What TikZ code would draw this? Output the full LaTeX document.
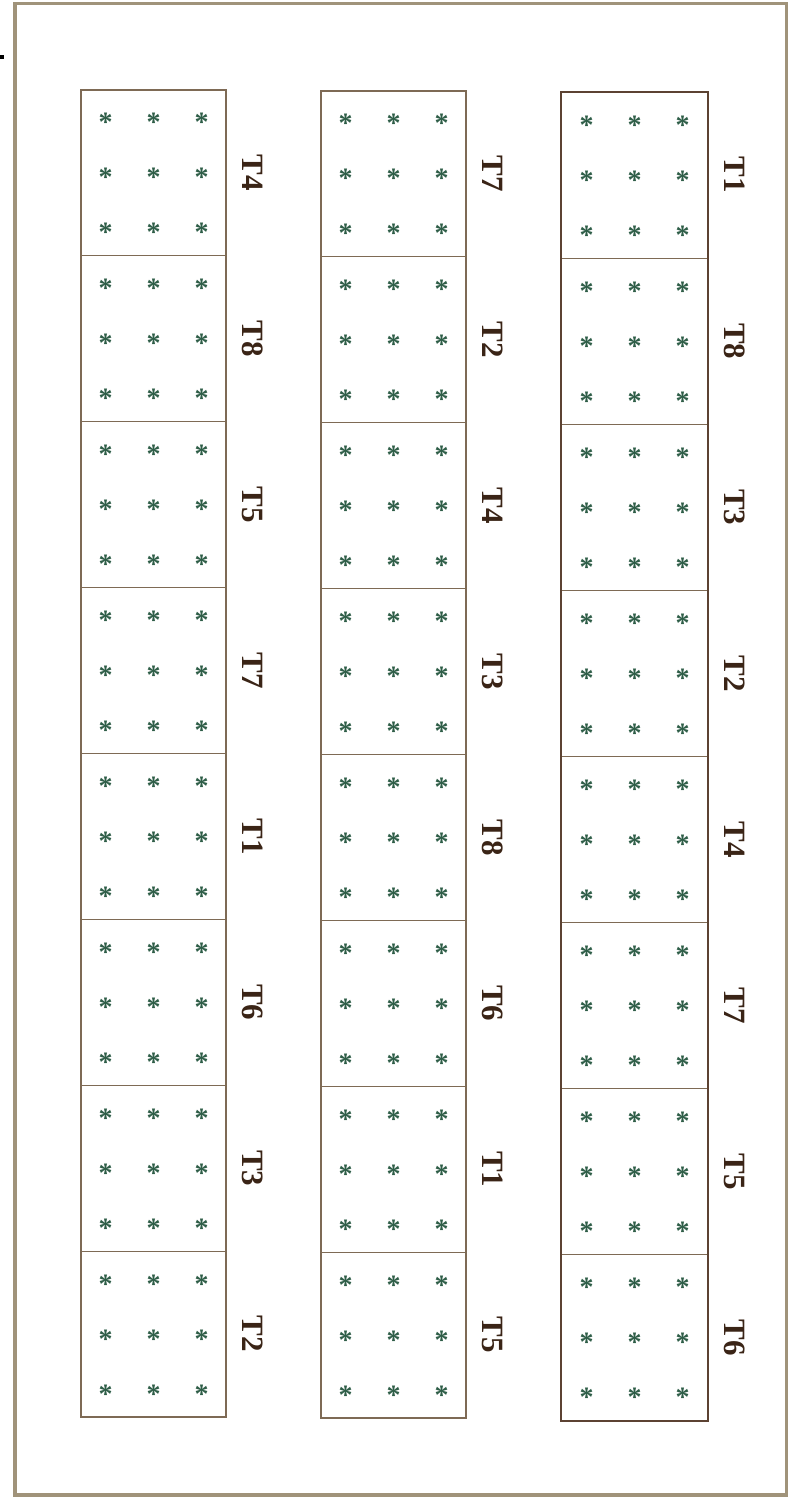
\documentclass[tikz,border=0pt]{standalone}
\usepackage{fontspec}
\setmainfont{Liberation Serif}
\definecolor{framecol}{HTML}{A0937A}
\definecolor{cellcol}{HTML}{7E6A55}
\definecolor{outercol}{HTML}{5C4232}
\definecolor{labcol}{HTML}{3A2416}
\definecolor{astcol}{HTML}{2F5E48}
\tikzset{
  cellbox/.style={draw=cellcol, line width=1.1pt, rectangle, inner sep=0pt},
  labtext/.style={text=labcol, font=\bfseries\fontsize{31}{31}\selectfont, rotate=-90, inner sep=0pt},
  astmark/.style={text=astcol, font=\bfseries\fontsize{28}{28}\selectfont, inner sep=0pt, anchor=base},
  frameline/.style={draw=framecol, line width=3.5pt},
  outerline/.style={draw=outercol, line width=2.4pt}
}
\begin{document}
\begin{tikzpicture}[x=1pt,y=-1pt]
\useasboundingbox (0,0) rectangle (789,1498);
\fill[white] (0,0) rectangle (789,1498);
\draw[frameline] (15,3.5) rectangle (786.5,1495);
\fill[black] (0,55) rectangle (4,59);
\foreach \ci/\xl/\xr/\yt/\yb/\labs in {
  1/81/226/90/1417/{T4,T8,T5,T7,T1,T6,T3,T2},
  2/321/466/91/1418/{T7,T2,T4,T3,T8,T6,T1,T5},
  3/561/708/92/1421/{T1,T8,T3,T2,T4,T7,T5,T6}}{
  \pgfmathsetmacro{\hh}{(\yb-\yt)/8}
  \pgfmathsetmacro{\ww}{\xr-\xl}
  \pgfmathsetmacro{\xc}{(\xl+\xr)/2}
  \foreach \t [count=\ri] in \labs {
    \pgfmathsetmacro{\yc}{\yt+(\ri-0.5)*\hh}
    \node[cellbox, minimum width=\ww pt, minimum height=\hh pt] (box\ci-\ri) at (\xc,\yc) {};
    \node[labtext] (lab\ci-\ri) at ([xshift=26pt]box\ci-\ri.east) {\t};
    \foreach \dx in {-48,0,48}{
      \foreach \dy in {-55,0,55}{
        \node[astmark] at ([xshift=\dx pt, yshift=\dy pt-14pt]box\ci-\ri.center) {*};
      }
    }
  }
}
\draw[outerline] (561,92) rectangle (708,1421);
\end{tikzpicture}
\end{document}
